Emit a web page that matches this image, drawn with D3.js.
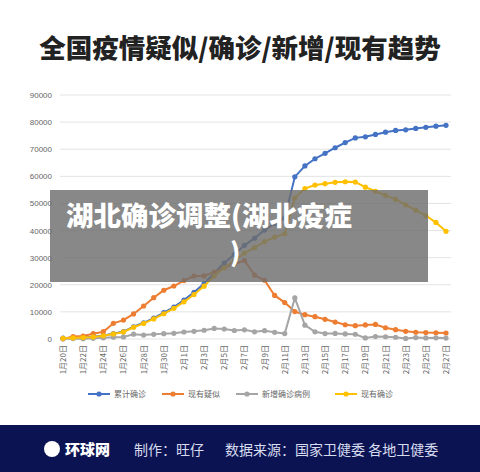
<!DOCTYPE html><html><head><meta charset="utf-8">
<script src="https://cdn.jsdelivr.net/npm/d3@7"></script>
<style>body{margin:0;background:#fff;font-family:"Noto Sans CJK SC","Noto Sans",sans-serif}</style></head><body>
<svg id="c" width="480" height="472"></svg>
<script>
const dates=[];for(let d=20;d<=31;d++)dates.push("1月"+d+"日");for(let d=1;d<=27;d++)dates.push("2月"+d+"日");
const cumulative=[291,440,571,830,1287,1975,2744,4515,5974,7711,9692,11791,14380,17205,20438,24324,28018,31161,34546,37198,40171,42638,44653,59804,63851,66492,68500,70548,72436,74185,74576,75465,76288,76936,77150,77658,78064,78497,78824];
const suspected=[54,922,1072,1965,2684,5794,6973,9239,12167,15238,17988,19544,21558,23214,23260,24702,26359,27657,28942,23589,21675,16067,13435,10109,8969,8228,7264,6242,5248,4922,5206,5365,4148,3434,2824,2491,2358,2308,2222];
const newCases=[77,149,131,259,444,688,769,1771,1459,1737,1982,2102,2590,2829,3235,3887,3694,3143,3399,2656,3062,2478,2015,15152,5090,2641,2009,2048,1886,1749,391,889,823,648,214,508,406,433,327];
const current=[260,380,540,780,1190,1870,2610,4330,5750,7400,9310,11300,13700,16400,19500,23200,26300,28900,31700,33700,35900,37600,38800,52000,55500,56800,57300,57800,58000,57900,56000,54500,53000,51500,49500,47500,45500,43000,39700];
const yTicks=[0,10000,20000,30000,40000,50000,60000,70000,80000,90000];
const seriesNames=["累计确诊","现有疑似","新增确诊病例","现有确诊"];
const colors=["#4472c4","#ed7d31","#a5a5a5","#ffc000"];
const allSeries=[cumulative,suspected,newCases,current];
const svg=d3.select("#c");
svg.append("text").attr("x",240).attr("y",58).attr("text-anchor","middle").attr("font-size",26.5).attr("font-weight",900).attr("fill","#222").text("全国疫情疑似/确诊/新增/现有趋势");
const x=d3.scalePoint().domain(dates).range([63,446]);
const y=d3.scaleLinear().domain([0,90000]).range([339,95]);
const g=svg.append("g");
g.selectAll("line.g").data(yTicks).join("line").attr("x1",60).attr("x2",451).attr("y1",d=>y(d)).attr("y2",d=>y(d)).attr("stroke","#e3e3e3");
g.selectAll("text.y").data(yTicks).join("text").attr("x",52).attr("y",d=>y(d)+3).attr("text-anchor","end").attr("font-size",8).attr("fill","#666").attr("font-family","Liberation Sans").text(d=>d);
g.selectAll("text.x").data(dates.filter((d,i)=>i%2==0)).join("text").attr("transform",d=>`translate(${x(d)+3},345) rotate(-90)`).attr("text-anchor","end").attr("font-size",8).attr("fill","#666").text(d=>d);
const line=d3.line().x((d,i)=>x(dates[i])).y(d=>y(d));
allSeries.forEach((s,k)=>{
 const gg=svg.append("g");
 gg.append("path").attr("d",line(s)).attr("fill","none").attr("stroke",colors[k]).attr("stroke-width",2);
 gg.selectAll("circle").data(s).join("circle").attr("cx",(d,i)=>x(dates[i])).attr("cy",d=>y(d)).attr("r",2.6).attr("fill",colors[k]);
});
const lx=[88,162,236,335];
seriesNames.forEach((n,k)=>{
 const lg=svg.append("g").attr("transform",`translate(${lx[k]},394)`);
 lg.append("line").attr("x1",0).attr("x2",22).attr("stroke",colors[k]).attr("stroke-width",2);
 lg.append("circle").attr("cx",11).attr("r",2.6).attr("fill",colors[k]);
 lg.append("text").attr("x",26).attr("y",3).attr("font-size",8).attr("fill","#666").text(n);
});
svg.append("rect").attr("x",50).attr("y",190).attr("width",378).attr("height",92).attr("fill","rgba(110,110,110,0.82)");
svg.append("text").attr("x",66).attr("y",226).attr("font-size",27.5).attr("font-weight",900).attr("fill","#fff").text("湖北确诊调整(湖北疫症");
svg.append("text").attr("x",230).attr("y",262).attr("font-size",26).attr("font-weight",900).attr("fill","#fff").text(")");
svg.append("rect").attr("x",0).attr("y",425).attr("width",480).attr("height",47).attr("fill","#0b1352");
svg.append("circle").attr("cx",52).attr("cy",449).attr("r",8).attr("fill","#fff");
svg.append("text").attr("x",65).attr("y",455).attr("font-size",15).attr("font-weight",900).attr("fill","#fff").text("环球网");
svg.append("text").attr("x",134).attr("y",455).attr("font-size",14).attr("fill","#d8dcf0").text("制作：旺仔");
svg.append("text").attr("x",225).attr("y",455).attr("font-size",14).attr("fill","#d8dcf0").text("数据来源：国家卫健委 各地卫健委");
</script></body></html>
